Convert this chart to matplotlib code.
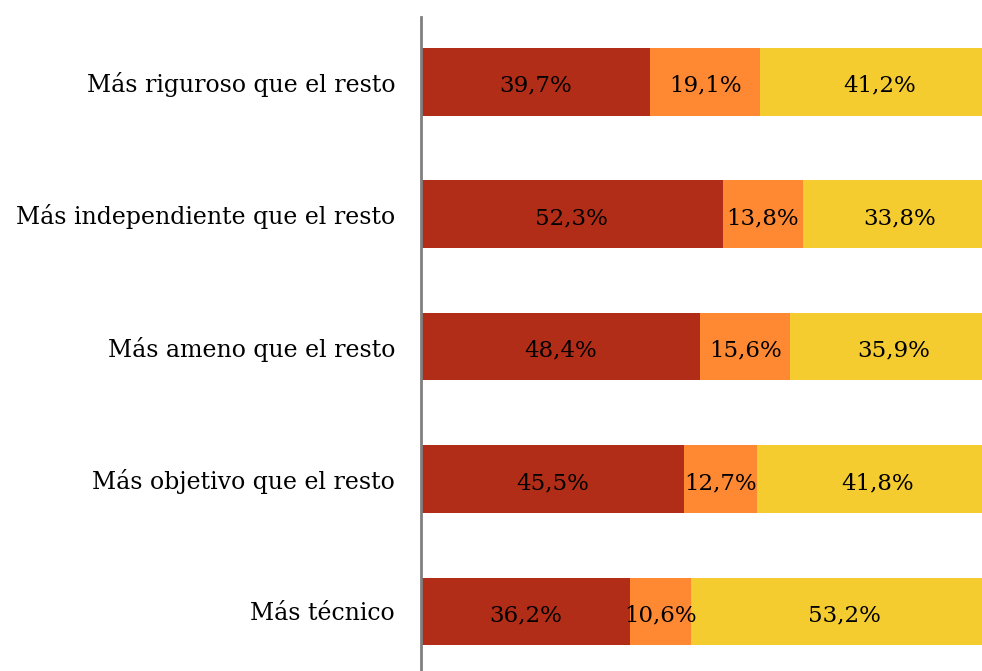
import matplotlib.pyplot as plt
import numpy as np

categorias = ["Más riguroso que el resto", "Más independiente que el resto",
              "Más ameno que el resto", "Más objetivo que el resto", "Más técnico"]
serie1 = [39.7, 52.3, 48.4, 45.5, 36.2]
serie2 = [19.1, 13.8, 15.6, 12.7, 10.6]
serie3 = [41.2, 33.8, 35.9, 41.8, 53.2]
colores = ["#B22D17", "#FF8833", "#F5CC30"]

plt.rcParams['font.family'] = ['DejaVu Serif']

fig = plt.figure(figsize=(9.82, 6.71), dpi=100)
ax = fig.add_axes([421/982, 0, 1 - 421/982, (671 - 17)/671])

y = np.arange(len(categorias))
izq = np.zeros(len(categorias))
for serie, c in zip([serie1, serie2, serie3], colores):
    barras = ax.barh(y, serie, left=izq, height=0.51, color=c)
    for b, v in zip(barras, serie):
        ax.text(b.get_x() + b.get_width()/2, b.get_y() + b.get_height()/2 + 0.03,
                f"{v:.1f}%".replace(".", ","), ha="center", va="center",
                fontsize=16.5, color="black", clip_on=False)
    izq = izq + np.array(serie)

# the bars run past the right edge of the picture
ax.set_xlim(0, 97.2)
ax.set_ylim(4.45, -0.49)
ax.set_yticks(y)
ax.set_yticklabels(categorias, fontsize=17)
ax.tick_params(axis="y", length=0, pad=18.7)
ax.set_xticks([])
for s in ["top", "right", "bottom"]:
    ax.spines[s].set_visible(False)
ax.spines["left"].set_color("#808080")
ax.spines["left"].set_linewidth(2)

plt.savefig("out.png", dpi=100)
